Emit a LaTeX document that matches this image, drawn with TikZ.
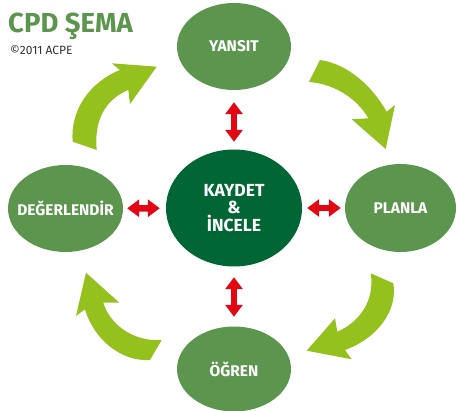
\documentclass[tikz,border=0pt]{standalone}
\usepackage{fontspec}
\setmainfont{Fira Sans}
\usetikzlibrary{shapes.geometric,arrows.meta}
\definecolor{cpdgreen}{RGB}{92,149,78}
\definecolor{cpddark}{RGB}{0,102,51}
\definecolor{cpdlime}{RGB}{149,193,31}
\definecolor{cpdred}{RGB}{227,6,19}
\tikzset{
stage/.style={ellipse,fill=cpdgreen,inner sep=0pt,minimum width=114pt,minimum height=87pt},
core/.style={ellipse,fill=cpddark,inner sep=0pt,minimum width=136pt,minimum height=117pt},
word/.style={text=white,inner sep=0pt,font=\fontsize{15.5}{15.5}\selectfont\bfseries},
dbl/.style={cpdred,line width=6.5pt,{Triangle[width=17pt,length=12pt]}-{Triangle[width=17pt,length=12pt]}},
turn/.style={fill=cpdlime}
}
\begin{document}
\begin{tikzpicture}[x=1pt,y=-1pt]
\useasboundingbox (0,0) rectangle (456,411);
% title
\node [anchor=base west,inner sep=0pt,text=cpdgreen,font=\fontsize{27.5}{27.5}\selectfont\bfseries](title) at(8,33) {CPD ŞEMA};
\node [anchor=base west,inner sep=0pt,text=black!80,font=\fontsize{12}{12}\selectfont](copy) at(10,55) {©2011 ACPE};
% stages
\node [stage,label={[word]center:YANSIT}](yansit) at(234,46.5) {};
\node [stage,minimum width=111pt,minimum height=88pt,label={[word]center:PLANLA}](planla) at(400.5,208) {};
\node [stage,minimum height=85pt,label={[word]center:ÖĞREN}](ogren) at(234,369) {};
\node [stage,minimum width=115pt,label={[word]center:DEĞERLENDİR}](degerlendir) at(65.5,208.5) {};
\node [core,label={[word,align=center,font=\fontsize{17.5}{17.5}\selectfont\bfseries]center:KAYDET\\\&\\İNCELE}](kaydet) at(234,208) {};
% red links
\draw[dbl,shorten <=7.5pt,shorten >=12pt] (kaydet) -- (yansit);
\draw[dbl,shorten <=10.5pt,shorten >=9.5pt] (kaydet) -- (ogren);
\draw[dbl,shorten <=6pt,shorten >=4pt] (kaydet) -- (degerlendir);
\draw[dbl,shorten <=5pt,shorten >=4pt] (kaydet) -- (planla);
% cycle arrows
\fill[turn] (320,60) .. controls (348,64) and (372,86) .. (386.7,111.7) -- (395,105) -- (385.7,149) -- (351.7,119.3) -- (368.3,118.3) .. controls (358,100) and (336,84) .. (309,82) -- cycle;
\fill[turn] (393.3,283.3) .. controls (398,310) and (378,338) .. (345,350) -- (351.7,359.3) -- (306.7,350.7) -- (335,318.3) -- (337.3,331.7) .. controls (360,322) and (375,300) .. (370.7,273.3) -- cycle;
\fill[turn] (150,360) .. controls (122,362) and (94,340) .. (85,309.3) -- (76,316) -- (86,272.7) -- (119.3,302.7) -- (103.3,302.7) .. controls (110,325) and (134,342) .. (161.7,340) -- cycle;
\fill[turn] (72.7,141.7) .. controls (70,110) and (90,82) .. (120,70) -- (111.7,63.3) -- (156.7,66.7) -- (130,104) -- (128.3,90) .. controls (104,100) and (94,122) .. (96.7,150) -- cycle;
\end{tikzpicture}
\end{document}
